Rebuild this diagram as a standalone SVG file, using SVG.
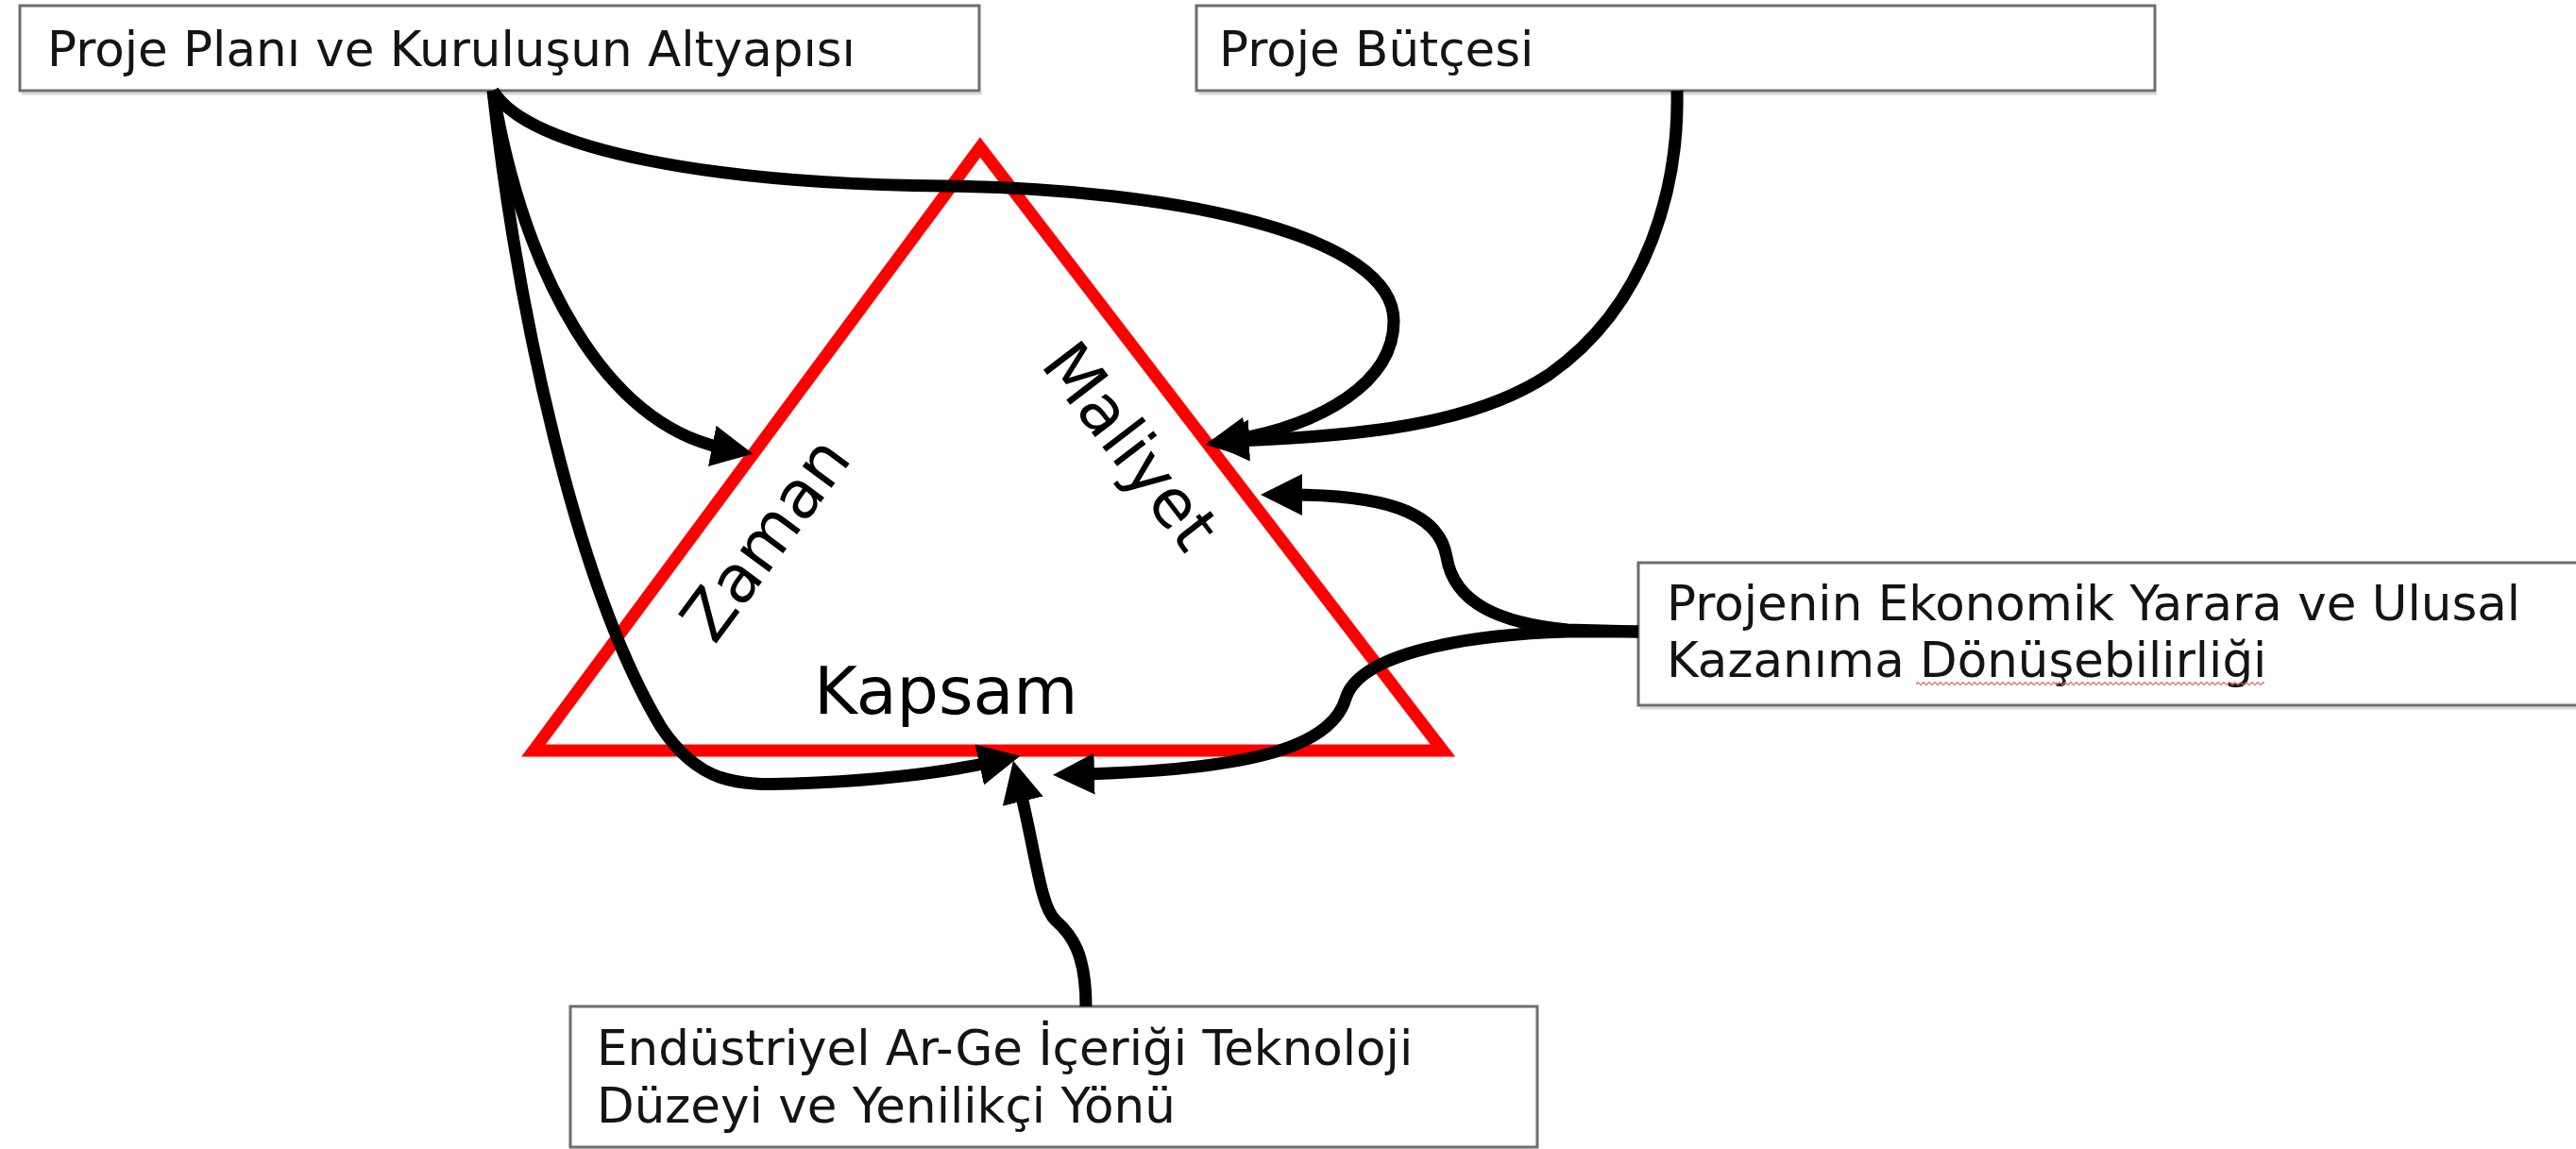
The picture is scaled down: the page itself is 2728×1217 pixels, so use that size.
<svg xmlns="http://www.w3.org/2000/svg" width="2728" height="1217" viewBox="0 0 2728 1217">
<style>
.box{fill:#ffffff;stroke:#6e6e6e;stroke-width:3}
.shadow{fill:none;stroke:#d9d9d9;stroke-width:3}
.lbl{font-family:"DejaVu Sans","Verdana",sans-serif;font-size:51.5px;fill:#141414}
.side{font-family:"DejaVu Sans","Verdana",sans-serif;font-size:70px;fill:#000000}
.tri{fill:none;stroke:#ff0000;stroke-width:13;stroke-linejoin:miter}
.con{fill:none;stroke:#000000;stroke-width:13;stroke-linecap:butt;stroke-linejoin:round}
</style>
<defs>
<marker id="ah" markerUnits="userSpaceOnUse" viewBox="0 0 44 44" markerWidth="44" markerHeight="44" refX="14" refY="22" orient="auto">
<path d="M0,0 L44,22 L0,44 Z" fill="#000000"/>
</marker>
<pattern id="squig" patternUnits="userSpaceOnUse" x="0" y="721" width="6" height="6">
<path d="M0,4.5 L3,1.5 L6,4.5" fill="none" stroke="#e06060" stroke-width="1.2"/>
</pattern>
</defs>
<rect width="2728" height="1217" fill="#ffffff"/>

<g id="triangle">
<polygon class="tri" points="565,795 1038,156 1528,795"/>
<text class="side" x="862" y="756">Kapsam</text>
<text class="side" text-anchor="middle" transform="translate(830,585) rotate(-53.5)">Zaman</text>
<text class="side" text-anchor="middle" transform="translate(1178,487) rotate(52.5)">Maliyet</text>
</g>

<g id="box1">
<line class="shadow" x1="23" y1="99" x2="1040" y2="99"/>
<rect class="box" x="21" y="6" width="1016" height="90"/>
<text class="lbl" x="50" y="70">Proje Planı ve Kuruluşun Altyapısı</text>
</g>

<g id="box2">
<line class="shadow" x1="1269" y1="99" x2="2284" y2="99"/>
<rect class="box" x="1267" y="6" width="1015" height="90"/>
<text class="lbl" x="1291" y="70">Proje Bütçesi</text>
</g>

<g id="box3">
<line class="shadow" x1="1737" y1="750" x2="2728" y2="750"/>
<rect class="box" x="1735" y="596" width="1010" height="151"/>
<text class="lbl" x="1765" y="657">Projenin Ekonomik Yarara ve Ulusal</text>
<text class="lbl" x="1765" y="717">Kazanıma Dönüşebilirliği</text>
<rect x="2029" y="721" width="369" height="6" fill="url(#squig)"/>
</g>

<g id="box4">
<rect class="box" x="604" y="1066" width="1024" height="149"/>
<text class="lbl" x="632" y="1128">Endüstriyel Ar-Ge İçeriği Teknoloji</text>
<text class="lbl" x="632" y="1189">Düzeyi ve Yenilikçi Yönü</text>
</g>

<g id="connectors">
<path class="con" marker-end="url(#ah)" d="M522,96 C555,290 640,450 768,475"/>
<path class="con" marker-end="url(#ah)" d="M522,96 C548,330 610,620 700,770 C740,830 780,832 840,830 C930,827 1000,818 1051,807"/>
<path class="con" marker-end="url(#ah)" d="M522,96 C560,160 760,195 1000,197 C1250,200 1476,250 1476,340 C1476,405 1400,450 1306,466"/>
<path class="con" marker-end="url(#ah)" d="M1776,96 C1778,190 1750,320 1640,397 C1560,450 1440,462 1309,467"/>
<path class="con" marker-end="url(#ah)" d="M1735,669 L1660,667 C1590,660 1540,640 1532,590 C1524,540 1460,524 1365,524"/>
<path class="con" marker-end="url(#ah)" d="M1735,669 L1660,669 C1560,672 1440,690 1425,740 C1410,790 1330,815 1145,820"/>
<path class="con" marker-end="url(#ah)" d="M1150,1066 C1150,1010 1135,990 1118,975 C1102,960 1098,910 1080,835"/>
</g>
</svg>
